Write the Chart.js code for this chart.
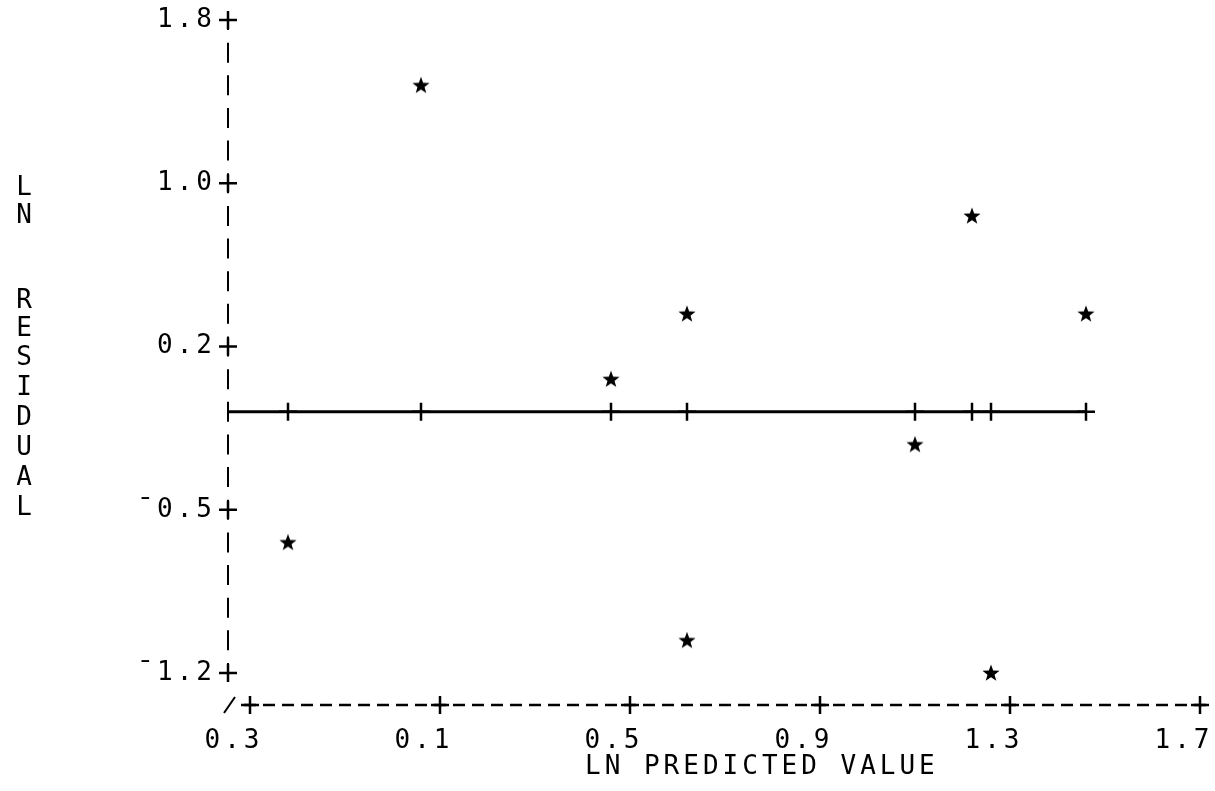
<!DOCTYPE html>
<html><head><meta charset="utf-8">
<script src="https://cdn.jsdelivr.net/npm/chart.js@4.4.1/dist/chart.umd.min.js"></script>
<style>html,body{margin:0;padding:0;background:#fff;}canvas{display:block;}</style>
</head><body>
<canvas id="c" width="1215" height="791"></canvas>
<script>
// ---- data ----
const xTickValues = [-0.3, 0.1, 0.5, 0.9, 1.3, 1.7];
const xTickLabels = ['0.3', '0.1', '0.5', '0.9', '1.3', '1.7'];
const yTickValues = [1.8, 1.05, 0.3, -0.45, -1.2];
const yTickLabels = ['1.8', '1.0', '0.2', '\u00AF0.5', '\u00AF1.2'];
const predicted = [0.06, 1.22, 0.62, 1.46, 0.46, 1.10, -0.22, 0.62, 1.26];
const residual  = [1.5, 0.9, 0.45, 0.45, 0.15, -0.15, -0.6, -1.05, -1.2];
const xTitle = 'LN PREDICTED VALUE';
const yTitle = ['L', 'N', '', 'R', 'E', 'S', 'I', 'D', 'U', 'A', 'L'];

// ---- layout / style ----
const FONT = "'DejaVu Sans Mono', monospace";
const X_MIN = -0.3 - 22 / 475;
const X_MAX = 1.7;
const Y_MIN = -1.2 - 32 / 217.667;
const Y_MAX = 1.8;
const yTitlePx = [188, 216, null, 301, 329, 358, 388, 418, 448, 478, 508];
const yTitleX = 26;

const points = predicted.map((x, i) => ({ x: x, y: residual[i] }));
const lineXs = [X_MIN].concat([...new Set(predicted)].sort((a, b) => a - b));
const zeroLine = lineXs.map(x => ({ x: x, y: 0 }));

function makeStar() {
  const c = document.createElement('canvas');
  c.width = 20; c.height = 20;
  const g = c.getContext('2d');
  g.fillStyle = '#000';
  g.beginPath();
  for (let i = 0; i < 10; i++) {
    const r = (i % 2) ? 3.7 : 9;
    const a = -Math.PI / 2 + i * Math.PI / 5;
    g.lineTo(10 + r * Math.cos(a), 10.5 + r * Math.sin(a));
  }
  g.closePath();
  g.fill();
  return c;
}
const starImg = makeStar();

const printerArt = {
  id: 'printerArt',
  beforeDraw(chart) { chart.ctx.letterSpacing = '4px'; },
  beforeDatasetsDraw(chart) {
    const ctx = chart.ctx;
    const xs = chart.scales.x, ys = chart.scales.y;
    const ax = chart.chartArea.left, ay = chart.chartArea.bottom;
    const yTop = ys.getPixelForValue(yTickValues[0]);
    const yBot = ys.getPixelForValue(yTickValues[yTickValues.length - 1]);
    const rowPitch = (yBot - yTop) / 20;
    const xFirst = xs.getPixelForValue(xTickValues[0]);
    const xLast = xs.getPixelForValue(xTickValues[xTickValues.length - 1]);
    const colPitch = (xLast - xFirst) / 50;
    ctx.save();
    ctx.strokeStyle = '#000';
    // vertical axis made of "|" characters
    ctx.lineWidth = 2;
    ctx.setLineDash([20, rowPitch - 20]);
    ctx.lineDashOffset = 10;
    ctx.beginPath(); ctx.moveTo(ax, yTop); ctx.lineTo(ax, yBot); ctx.stroke();
    // horizontal axis made of "-" characters
    ctx.lineWidth = 2.5;
    ctx.setLineDash([12, colPitch - 12]);
    ctx.lineDashOffset = 0;
    ctx.beginPath(); ctx.moveTo(xFirst - 6, ay); ctx.lineTo(xLast + 7, ay); ctx.stroke();
    ctx.setLineDash([]);
    function plus(x, y, r) {
      ctx.beginPath();
      ctx.moveTo(x - r, y); ctx.lineTo(x + r, y);
      ctx.moveTo(x, y - r); ctx.lineTo(x, y + r);
      ctx.stroke();
    }
    yTickValues.forEach(v => plus(ax, ys.getPixelForValue(v), 9));
    xTickValues.forEach(v => plus(xs.getPixelForValue(v), ay, 9));
    ctx.lineWidth = 2;
    ctx.beginPath(); ctx.moveTo(ax - 4, ay + 8); ctx.lineTo(ax + 7, ay - 8); ctx.stroke();
    ctx.restore();
  },
  afterDraw(chart) {
    const ctx = chart.ctx;
    const xs = chart.scales.x;
    ctx.save();
    ctx.fillStyle = '#000';
    ctx.font = '26px ' + FONT;
    ctx.letterSpacing = '4px';
    ctx.textBaseline = 'middle';
    ctx.textAlign = 'left';
    ctx.fillText(xTitle, xs.getPixelForValue(0.5) - 45, 767);
    ctx.textAlign = 'center';
    yTitle.forEach((ch, i) => { if (ch) ctx.fillText(ch, yTitleX, yTitlePx[i]); });
    ctx.restore();
  }
};

new Chart(document.getElementById('c').getContext('2d'), {
  type: 'scatter',
  data: {
    datasets: [
      {
        type: 'line', data: zeroLine, borderColor: '#000', borderWidth: 3,
        pointStyle: 'cross', pointRadius: zeroLine.map((p, i) => i === 0 ? 0 : 9),
        pointBorderWidth: 2.5, pointBorderColor: '#000', pointBackgroundColor: '#000',
        fill: false, tension: 0, clip: false, order: 2
      },
      {
        data: points, pointStyle: starImg, pointRadius: 9, clip: false, order: 1
      }
    ]
  },
  options: {
    responsive: false, animation: false, devicePixelRatio: 1,
    layout: { padding: { top: 20, right: 15, bottom: 0, left: 0 } },
    plugins: { legend: { display: false }, tooltip: { enabled: false } },
    scales: {
      x: {
        type: 'linear', min: X_MIN, max: X_MAX,
        afterBuildTicks: s => { s.ticks = xTickValues.map(v => ({ value: v })); },
        afterFit: s => { s.height = 86; s.paddingLeft = 0; s.paddingRight = 0; },
        grid: { display: false, drawTicks: false },
        border: { display: false },
        ticks: {
          padding: 21, labelOffset: -16, color: '#000', autoSkip: false, maxRotation: 0,
          font: { family: FONT, size: 26, lineHeight: 1.2 },
          callback: (v, i) => xTickLabels[i]
        }
      },
      y: {
        type: 'linear', min: Y_MIN, max: Y_MAX,
        afterBuildTicks: s => { s.ticks = yTickValues.map(v => ({ value: v })); },
        afterFit: s => { s.width = 228; s.paddingTop = 0; s.paddingBottom = 0; },
        grid: { display: false, drawTicks: false },
        border: { display: false },
        ticks: {
          padding: 12, color: '#000', autoSkip: false,
          font: { family: FONT, size: 26, lineHeight: 1.2 },
          callback: (v, i) => yTickLabels[i]
        }
      }
    }
  },
  plugins: [printerArt]
});
</script>
</body></html>
